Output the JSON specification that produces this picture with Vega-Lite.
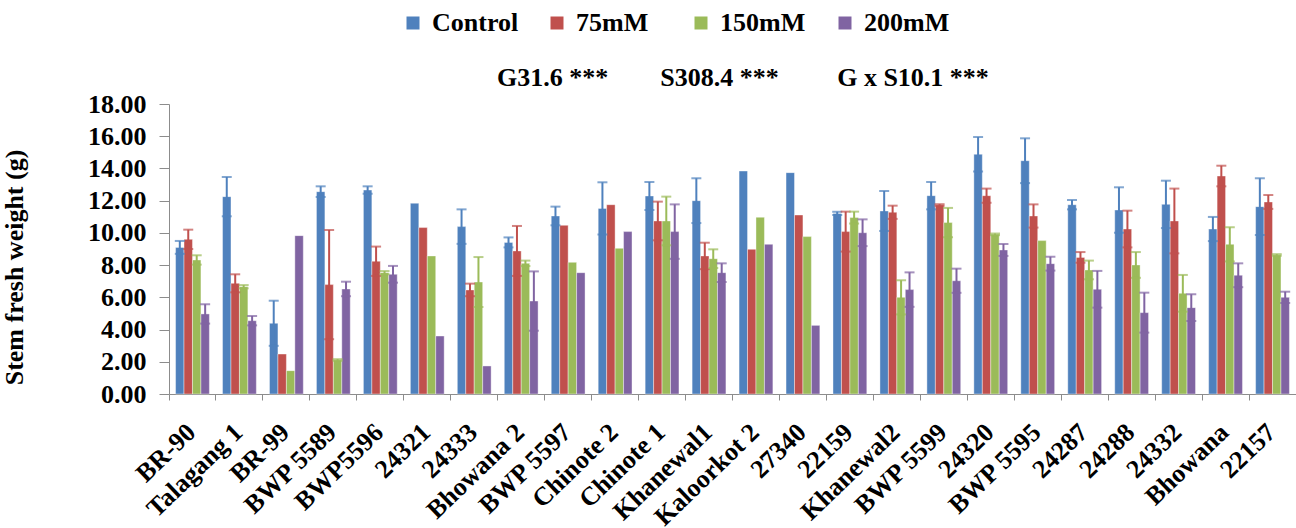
{
  "$schema": "https://vega.github.io/schema/vega-lite/v6.json",
  "width": 1127,
  "height": 290,
  "autosize": {"type": "none"},
  "padding": {"left": 169, "top": 104, "right": 0, "bottom": 134},
  "background": "white",
  "config": {
    "font": "Liberation Serif",
    "view": {"stroke": null},
    "axis": {"labelFont": "Liberation Serif", "titleFont": "Liberation Serif", "labelFontWeight": "bold", "titleFontWeight": "bold", "labelColor": "#000", "titleColor": "#000", "domainColor": "#8c8c8c", "tickColor": "#8c8c8c", "grid": false},
    "axisY": {"labelOverlap": false}
  },
  "title": {
    "text": "G31.6 ***\u00a0\u00a0\u00a0\u00a0\u00a0\u00a0\u00a0\u00a0S308.4 ***\u00a0\u00a0\u00a0\u00a0\u00a0\u00a0\u00a0\u00a0\u00a0G x S10.1 ***",
    "orient": "bottom",
    "anchor": "start",
    "frame": "group",
    "dx": 328,
    "offset": -465,
    "baseline": "top",
    "font": "Liberation Serif",
    "fontSize": 26,
    "fontWeight": "bold",
    "color": "#000"
  },
  "data": {
    "values": [
      {"g": "BR-90", "t": "Control", "v": 9.10, "e": 0.40},
      {"g": "BR-90", "t": "75mM", "v": 9.60, "e": 0.60},
      {"g": "BR-90", "t": "150mM", "v": 8.32, "e": 0.29},
      {"g": "BR-90", "t": "200mM", "v": 4.97, "e": 0.60},
      {"g": "Talagang 1", "t": "Control", "v": 12.25, "e": 1.22},
      {"g": "Talagang 1", "t": "75mM", "v": 6.87, "e": 0.56},
      {"g": "Talagang 1", "t": "150mM", "v": 6.66, "e": 0.10},
      {"g": "Talagang 1", "t": "200mM", "v": 4.55, "e": 0.29},
      {"g": "BR-99", "t": "Control", "v": 4.39, "e": 1.40},
      {"g": "BR-99", "t": "75mM", "v": 2.48, "e": 0},
      {"g": "BR-99", "t": "150mM", "v": 1.45, "e": 0},
      {"g": "BR-99", "t": "200mM", "v": 9.83, "e": 0},
      {"g": "BWP 5589", "t": "Control", "v": 12.56, "e": 0.33},
      {"g": "BWP 5589", "t": "75mM", "v": 6.79, "e": 3.39},
      {"g": "BWP 5589", "t": "150mM", "v": 2.11, "e": 0.05},
      {"g": "BWP 5589", "t": "200mM", "v": 6.52, "e": 0.45},
      {"g": "BWP5596", "t": "Control", "v": 12.66, "e": 0.23},
      {"g": "BWP5596", "t": "75mM", "v": 8.24, "e": 0.91},
      {"g": "BWP5596", "t": "150mM", "v": 7.53, "e": 0.10},
      {"g": "BWP5596", "t": "200mM", "v": 7.43, "e": 0.52},
      {"g": "24321", "t": "Control", "v": 11.84, "e": 0},
      {"g": "24321", "t": "75mM", "v": 10.33, "e": 0},
      {"g": "24321", "t": "150mM", "v": 8.57, "e": 0},
      {"g": "24321", "t": "200mM", "v": 3.60, "e": 0},
      {"g": "24333", "t": "Control", "v": 10.39, "e": 1.07},
      {"g": "24333", "t": "75mM", "v": 6.46, "e": 0.39},
      {"g": "24333", "t": "150mM", "v": 6.95, "e": 1.55},
      {"g": "24333", "t": "200mM", "v": 1.74, "e": 0},
      {"g": "Bhowana 2", "t": "Control", "v": 9.41, "e": 0.31},
      {"g": "Bhowana 2", "t": "75mM", "v": 8.88, "e": 1.55},
      {"g": "Bhowana 2", "t": "150mM", "v": 8.11, "e": 0.17},
      {"g": "Bhowana 2", "t": "200mM", "v": 5.77, "e": 1.84},
      {"g": "BWP 5597", "t": "Control", "v": 11.05, "e": 0.58},
      {"g": "BWP 5597", "t": "75mM", "v": 10.47, "e": 0},
      {"g": "BWP 5597", "t": "150mM", "v": 8.17, "e": 0},
      {"g": "BWP 5597", "t": "200mM", "v": 7.53, "e": 0},
      {"g": "Chinote 2", "t": "Control", "v": 11.52, "e": 1.62},
      {"g": "Chinote 2", "t": "75mM", "v": 11.75, "e": 0},
      {"g": "Chinote 2", "t": "150mM", "v": 9.04, "e": 0},
      {"g": "Chinote 2", "t": "200mM", "v": 10.08, "e": 0},
      {"g": "Chinote 1", "t": "Control", "v": 12.29, "e": 0.87},
      {"g": "Chinote 1", "t": "75mM", "v": 10.74, "e": 1.20},
      {"g": "Chinote 1", "t": "150mM", "v": 10.74, "e": 1.51},
      {"g": "Chinote 1", "t": "200mM", "v": 10.08, "e": 1.69},
      {"g": "Khanewal1", "t": "Control", "v": 12.00, "e": 1.39},
      {"g": "Khanewal1", "t": "75mM", "v": 8.57, "e": 0.82},
      {"g": "Khanewal1", "t": "150mM", "v": 8.40, "e": 0.58},
      {"g": "Khanewal1", "t": "200mM", "v": 7.53, "e": 0.58},
      {"g": "Kaloorkot 2", "t": "Control", "v": 13.84, "e": 0},
      {"g": "Kaloorkot 2", "t": "75mM", "v": 8.98, "e": 0},
      {"g": "Kaloorkot 2", "t": "150mM", "v": 10.97, "e": 0},
      {"g": "Kaloorkot 2", "t": "200mM", "v": 9.29, "e": 0},
      {"g": "27340", "t": "Control", "v": 13.74, "e": 0},
      {"g": "27340", "t": "75mM", "v": 11.11, "e": 0},
      {"g": "27340", "t": "150mM", "v": 9.77, "e": 0},
      {"g": "27340", "t": "200mM", "v": 4.26, "e": 0},
      {"g": "22159", "t": "Control", "v": 11.21, "e": 0.10},
      {"g": "22159", "t": "75mM", "v": 10.08, "e": 1.24},
      {"g": "22159", "t": "150mM", "v": 10.95, "e": 0.37},
      {"g": "22159", "t": "200mM", "v": 10.01, "e": 0.83},
      {"g": "Khanewal2", "t": "Control", "v": 11.36, "e": 1.24},
      {"g": "Khanewal2", "t": "75mM", "v": 11.28, "e": 0.41},
      {"g": "Khanewal2", "t": "150mM", "v": 6.00, "e": 1.06},
      {"g": "Khanewal2", "t": "200mM", "v": 6.48, "e": 1.07},
      {"g": "BWP 5599", "t": "Control", "v": 12.31, "e": 0.85},
      {"g": "BWP 5599", "t": "75mM", "v": 11.73, "e": 0.05},
      {"g": "BWP 5599", "t": "150mM", "v": 10.64, "e": 0.91},
      {"g": "BWP 5599", "t": "200mM", "v": 7.03, "e": 0.75},
      {"g": "24320", "t": "Control", "v": 14.88, "e": 1.07},
      {"g": "24320", "t": "75mM", "v": 12.31, "e": 0.44},
      {"g": "24320", "t": "150mM", "v": 9.91, "e": 0.05},
      {"g": "24320", "t": "200mM", "v": 8.94, "e": 0.37},
      {"g": "BWP 5595", "t": "Control", "v": 14.48, "e": 1.39},
      {"g": "BWP 5595", "t": "75mM", "v": 11.05, "e": 0.72},
      {"g": "BWP 5595", "t": "150mM", "v": 9.52, "e": 0},
      {"g": "BWP 5595", "t": "200mM", "v": 8.09, "e": 0.43},
      {"g": "24287", "t": "Control", "v": 11.75, "e": 0.29},
      {"g": "24287", "t": "75mM", "v": 8.48, "e": 0.33},
      {"g": "24287", "t": "150mM", "v": 7.70, "e": 0.58},
      {"g": "24287", "t": "200mM", "v": 6.50, "e": 1.14},
      {"g": "24288", "t": "Control", "v": 11.42, "e": 1.41},
      {"g": "24288", "t": "75mM", "v": 10.24, "e": 1.14},
      {"g": "24288", "t": "150mM", "v": 8.01, "e": 0.80},
      {"g": "24288", "t": "200mM", "v": 5.05, "e": 1.24},
      {"g": "24332", "t": "Control", "v": 11.77, "e": 1.47},
      {"g": "24332", "t": "75mM", "v": 10.74, "e": 2.01},
      {"g": "24332", "t": "150mM", "v": 6.25, "e": 1.14},
      {"g": "24332", "t": "200mM", "v": 5.36, "e": 0.83},
      {"g": "Bhowana", "t": "Control", "v": 10.24, "e": 0.75},
      {"g": "Bhowana", "t": "75mM", "v": 13.53, "e": 0.64},
      {"g": "Bhowana", "t": "150mM", "v": 9.29, "e": 1.06},
      {"g": "Bhowana", "t": "200mM", "v": 7.37, "e": 0.74},
      {"g": "22157", "t": "Control", "v": 11.63, "e": 1.76},
      {"g": "22157", "t": "75mM", "v": 11.92, "e": 0.43},
      {"g": "22157", "t": "150mM", "v": 8.63, "e": 0.05},
      {"g": "22157", "t": "200mM", "v": 6.00, "e": 0.35}
    ]
  },
  "transform": [
    {"calculate": "datum.v - datum.e", "as": "lo"},
    {"calculate": "datum.v + datum.e", "as": "hi"}
  ],
  "encoding": {
    "x": {
      "field": "g", "type": "nominal", "sort": null,
      "scale": {"paddingInner": 0, "paddingOuter": 0},
      "axis": {"title": null, "bandPosition": 0, "labelOffset": -1, "labelAngle": -44, "labelAlign": "right", "labelBaseline": "middle", "labelFontSize": 26, "labelPadding": 28, "tickSize": 6, "labelOverlap": false, "labelLimit": 300}
    },
    "xOffset": {"field": "t", "type": "nominal", "scale": {"domain": ["Control", "75mM", "150mM", "200mM"], "paddingInner": 0, "paddingOuter": 0.778}}
  },
  "layer": [
    {
      "mark": {"type": "bar", "stroke": "white", "strokeWidth": 0.4},
      "encoding": {
        "y": {
          "field": "v", "type": "quantitative",
          "scale": {"domain": [0, 18], "nice": false},
          "axis": {"values": [0, 2, 4, 6, 8, 10, 12, 14, 16, 18], "labelOverlap": false, "format": ".2f", "labelFontSize": 26, "title": "Stem fresh weight (g)", "titleFontSize": 26, "titlePadding": 60, "titleY": 163, "tickSize": 10, "labelPadding": 13}
        },
        "color": {
          "field": "t", "type": "nominal",
          "scale": {"domain": ["Control", "75mM", "150mM", "200mM"], "range": ["#4F81BD", "#C0504D", "#9BBB59", "#8064A2"]},
          "legend": {
            "title": null, "orient": "none", "legendX": 231, "legendY": -94, "direction": "horizontal", "columns": 4,
            "gridAlign": "all", "columnPadding": 25, "symbolType": "square", "symbolSize": 169, "symbolStrokeWidth": 0,
            "labelFont": "Liberation Serif", "labelFontWeight": "bold", "labelFontSize": 26, "labelColor": "#000", "labelOffset": 6, "labelLimit": 200
          }
        }
      }
    },
    {
      "transform": [{"filter": "datum.e > 0"}],
      "mark": {"type": "rule", "strokeWidth": 2},
      "encoding": {
        "y": {"field": "lo", "type": "quantitative", "axis": {"values": [0, 2, 4, 6, 8, 10, 12, 14, 16, 18], "labelOverlap": false, "format": ".2f", "labelFontSize": 26, "title": "Stem fresh weight (g)", "titleFontSize": 26, "titlePadding": 60, "titleY": 163, "tickSize": 10, "labelPadding": 13}},
        "y2": {"field": "hi"},
        "color": {"field": "t", "type": "nominal", "legend": null}
      }
    },
    {
      "transform": [{"filter": "datum.e > 0"}],
      "mark": {"type": "tick", "thickness": 2, "size": 10},
      "encoding": {
        "y": {"field": "hi", "type": "quantitative", "axis": {"values": [0, 2, 4, 6, 8, 10, 12, 14, 16, 18], "labelOverlap": false, "format": ".2f", "labelFontSize": 26, "title": "Stem fresh weight (g)", "titleFontSize": 26, "titlePadding": 60, "titleY": 163, "tickSize": 10, "labelPadding": 13}},
        "color": {"field": "t", "type": "nominal", "legend": null}
      }
    },
    {
      "transform": [{"filter": "datum.e > 0"}],
      "mark": {"type": "tick", "thickness": 2, "size": 10},
      "encoding": {
        "y": {"field": "lo", "type": "quantitative", "axis": {"values": [0, 2, 4, 6, 8, 10, 12, 14, 16, 18], "labelOverlap": false, "format": ".2f", "labelFontSize": 26, "title": "Stem fresh weight (g)", "titleFontSize": 26, "titlePadding": 60, "titleY": 163, "tickSize": 10, "labelPadding": 13}},
        "color": {"field": "t", "type": "nominal", "legend": null}
      }
    }
  ]
}
